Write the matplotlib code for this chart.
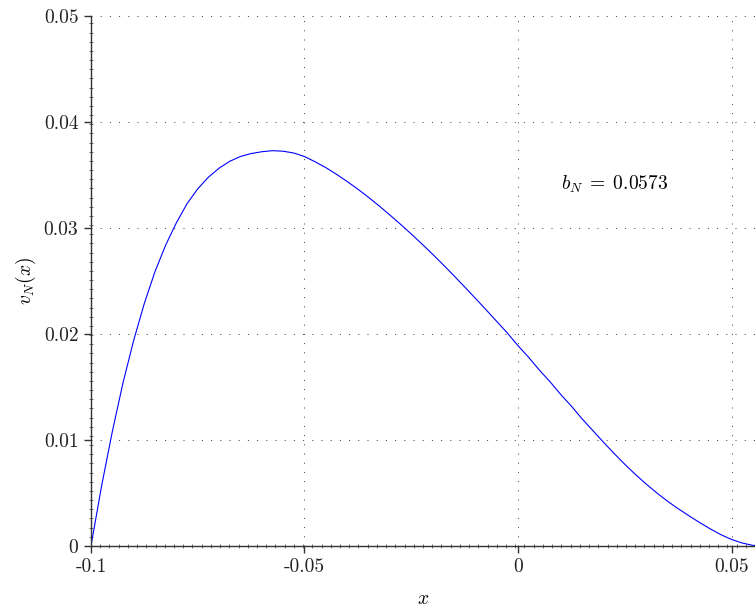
"""Recreate the v_N(x) profile plot."""

import matplotlib

matplotlib.use("Agg")
import matplotlib.pyplot as plt
import numpy as np
from matplotlib.ticker import FixedLocator

# values
X_VALUES = [
    -0.1, -0.0975, -0.095, -0.0925, -0.09, -0.0875, -0.085, -0.0825,
    -0.08, -0.0775, -0.075, -0.0725, -0.07, -0.0675, -0.065, -0.0625,
    -0.06, -0.0575, -0.055, -0.0525, -0.05, -0.0475, -0.045, -0.0425,
    -0.04, -0.0375, -0.035, -0.0325, -0.03, -0.0275, -0.025, -0.0225,
    -0.02, -0.0175, -0.015, -0.0125, -0.01, -0.0075, -0.005, -0.0025,
    0.0, 0.0025, 0.005, 0.0075, 0.01, 0.0125, 0.015, 0.0175,
    0.02, 0.0225, 0.025, 0.0275, 0.03, 0.0325, 0.035, 0.0375,
    0.04, 0.0425, 0.045, 0.0475, 0.05, 0.0525, 0.055, 0.0573,
]
V_VALUES = [
    0.0, 0.0057, 0.0108, 0.0154, 0.0194, 0.0229, 0.0259, 0.0284,
    0.0305, 0.0323, 0.0337, 0.0348, 0.03565, 0.0363, 0.03675, 0.03703,
    0.0372, 0.0373, 0.03725, 0.03708, 0.03675, 0.03625, 0.0357, 0.03507,
    0.03439, 0.03367, 0.0329, 0.03208, 0.03123, 0.03035, 0.02944, 0.0285,
    0.02753, 0.02653, 0.0255, 0.02445, 0.02338, 0.0223, 0.0212, 0.0201,
    0.0189, 0.0178, 0.0166, 0.0155, 0.0143, 0.0132, 0.0120, 0.0109,
    0.0098, 0.00873, 0.00771, 0.00675, 0.00585, 0.00501, 0.00423, 0.00352,
    0.00286, 0.00222, 0.00162, 0.00107, 0.00062, 0.00028, 0.00006, 0.0,
]
X_TICKS = [-0.1, -0.05, 0.0, 0.05]
X_TICK_LABELS = ["-0.1", "-0.05", "0", "0.05"]
Y_TICKS = [0.0, 0.01, 0.02, 0.03, 0.04, 0.05]
Y_TICK_LABELS = ["0", "0.01", "0.02", "0.03", "0.04", "0.05"]
B_N = 0.0573

plt.rcParams["font.family"] = "cmr10"
plt.rcParams["mathtext.fontset"] = "cm"
plt.rcParams["axes.unicode_minus"] = False

AXIS_COLOR = "#333333"
FONT_SIZE = 14

fig = plt.figure(figsize=(7.55, 6.07), dpi=100)
ax = fig.add_axes([0.1205, 0.1005, 0.8795, 0.873])

ax.plot(X_VALUES, V_VALUES, color="blue", linewidth=0.8)

ax.set_xlim(-0.1, 0.0555)
ax.set_ylim(0.0, 0.05)

ax.set_xticks(X_TICKS)
ax.set_xticklabels(X_TICK_LABELS)
ax.set_yticks(Y_TICKS)
ax.set_yticklabels(Y_TICK_LABELS)
# small ticks sit at a fixed ~9 px pitch from the origin in the reference
ax.xaxis.set_minor_locator(FixedLocator(np.arange(-0.1, 0.056, 0.00216)))
ax.yaxis.set_minor_locator(FixedLocator(np.arange(0.0, 0.0501, 0.000865)))

ax.tick_params(which="major", direction="out", length=5, width=1.0,
               color=AXIS_COLOR, labelcolor="#222222", labelsize=FONT_SIZE, pad=4)
ax.tick_params(which="minor", direction="inout", length=2.5, width=0.6, color="#555555")

for side in ("top", "right"):
    ax.spines[side].set_visible(False)
for side in ("left", "bottom"):
    ax.spines[side].set_color(AXIS_COLOR)
    ax.spines[side].set_linewidth(1.0)

ax.grid(True, which="major", color="#444444", linewidth=0.72,
        linestyle=(0, (1, 8.2)))

ax.set_xlabel("$x$", fontsize=FONT_SIZE, labelpad=10)
ax.set_ylabel("$v_N(x)$", fontsize=FONT_SIZE, labelpad=4)

ax.text(0.0101, 0.0341, rf"$b_N \;=\; {B_N}$", fontsize=FONT_SIZE,
        ha="left", va="center")

fig.savefig("out.png", dpi=100)
